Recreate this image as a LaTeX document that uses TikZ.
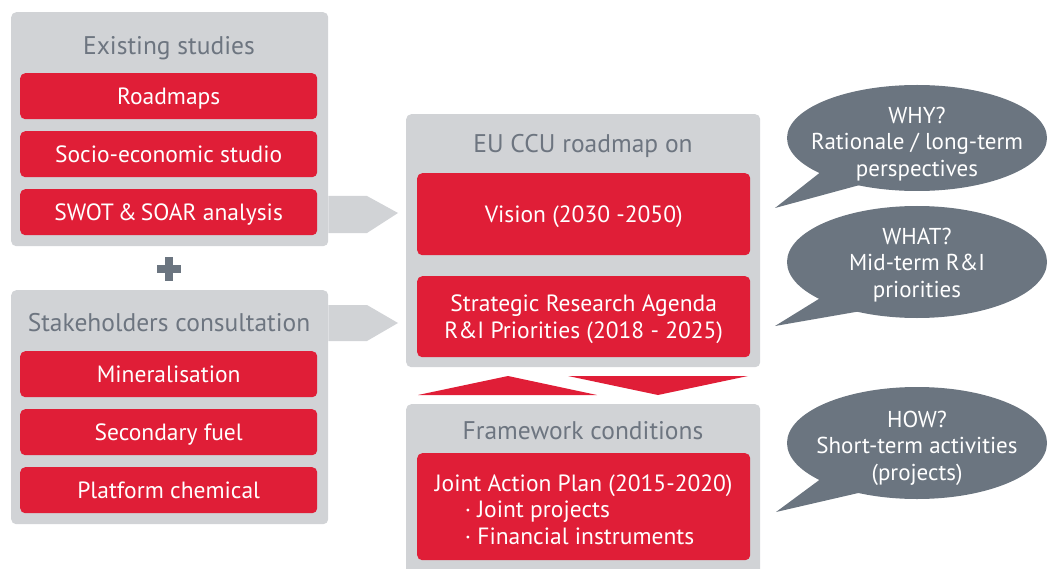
\documentclass[tikz,border=0pt]{standalone}
\usepackage{fontspec}
\setmainfont{PT Sans}
\usetikzlibrary{shapes.geometric,calc}
\definecolor{boxgray}{HTML}{D1D3D6}
\definecolor{ccured}{HTML}{E01E37}
\definecolor{bubgray}{HTML}{6B7580}
\definecolor{titlegray}{HTML}{6D7580}
\tikzset{
  panel/.style={fill=boxgray, rounded corners=5pt, draw=none},
  redbox/.style={fill=ccured, rounded corners=5pt, draw=none, text=white,
    font=\fontsize{23.5}{26.5}\selectfont, align=center, inner sep=0pt, text depth=0pt},
  redtext/.style={text=white, font=\fontsize{23.5}{26.5}\selectfont, inner sep=0pt},
  paneltitle/.style={text=titlegray, font=\fontsize{25.5}{28}\selectfont, inner sep=0pt, text depth=0pt},
  bubble/.style={ellipse, fill=bubgray, draw=none, inner sep=0pt},
  bubtext/.style={text=white, font=\fontsize{23}{26.5}\selectfont, align=center, inner sep=0pt},
  graytip/.style={fill=boxgray, draw=none},
  redtip/.style={fill=ccured, draw=none},
}
\begin{document}
\begin{tikzpicture}[x=1pt,y=-1pt]
\useasboundingbox (0,0) rectangle (1048,569);
\clip (0,0) rectangle (1048,569);
% left panels
\node[panel, minimum width=317pt, minimum height=234pt, anchor=north west] (ex) at (11,12) {};
\node[paneltitle] (extitle) at (169,45) {Existing studies};
\node[redbox, minimum width=297pt, minimum height=46pt, anchor=north west] (road) at (20,73) {Roadmaps};
\node[redbox, minimum width=297pt, minimum height=46pt, anchor=north west] (socio) at (20,131) {Socio-economic studio};
\node[redbox, minimum width=297pt, minimum height=46pt, anchor=north west] (swot) at (20,189) {SWOT\,\&\,SOAR analysis};
% plus
\node[fill=bubgray, minimum width=24pt, minimum height=8pt, inner sep=0pt] (plush) at (169,269) {};
\node[fill=bubgray, minimum width=8pt, minimum height=24pt, inner sep=0pt] (plusv) at (169,269) {};
\node[panel, minimum width=317pt, minimum height=234pt, anchor=north west] (st) at (11,290) {};
\node[paneltitle] (sttitle) at (169,322) {Stakeholders consultation};
\node[redbox, minimum width=297pt, minimum height=46pt, anchor=north west] (mineral) at (20,351) {Mineralisation};
\node[redbox, minimum width=297pt, minimum height=46pt, anchor=north west] (fuel) at (20,409) {Secondary fuel};
\node[redbox, minimum width=297pt, minimum height=46pt, anchor=north west] (chem) at (20,467) {Platform chemical};
% middle panels
\node[panel, minimum width=354pt, minimum height=253pt, anchor=north west] (eu) at (406,114) {};
\node[paneltitle] (eutitle) at (583,143) {EU CCU roadmap on};
\node[redbox, minimum width=333pt, minimum height=82pt, anchor=north west] (vision) at (417,173) {Vision (2030 -2050)};
\node[redbox, minimum width=333pt, minimum height=81pt, anchor=north west] (sra) at (417,276) {Strategic Research Agenda\\R\&I Priorities (2018 - 2025)};
\node[panel, minimum width=354pt, minimum height=180pt, anchor=north west] (fw) at (406,404) {};
\node[paneltitle] (fwtitle) at (583,430) {Framework conditions};
\node[redbox, minimum width=333pt, minimum height=107pt, anchor=north west] (jap) at (417,453) {};
\node[redtext, align=left] (japtext) at ($(jap.center)+(0,3)$)
  {Joint Action Plan (2015-2020)\\\hspace*{30pt}· Joint projects\\\hspace*{30pt}· Financial instruments};
% arrows left -> middle
\fill[graytip] (ex.east |- 0,196) -- (367,196) -- (398,213) -- (367,233) -- (ex.east |- 0,233) -- cycle;
\fill[graytip] (st.east |- 0,305) -- (367,305) -- (398,323) -- (367,341) -- (st.east |- 0,341) -- cycle;
% triangles between middle panels
\fill[redtip] (418,395) -- (508,376) -- (597,395) -- cycle;
\fill[redtip] (568,376) -- (748,376) -- (658,395) -- cycle;
% bubbles
\coordinate (whytip) at (775,208);
\coordinate (whattip) at (775,326);
\coordinate (howtip) at (776,512);
\node[bubble, minimum width=260pt, minimum height=106pt] (why) at (917,138) {};
\fill[bubgray] ($(why.center)+(-95,33)$) -- (whytip) -- ($(why.center)+(-50,45)$) -- cycle;
\node[bubtext] (whytext) at (917,144) {WHY?\\Rationale / long-term\\perspectives};
\node[bubble, minimum width=260pt, minimum height=112pt] (what) at (917,262) {};
\fill[bubgray] ($(what.center)+(-95,35)$) -- (whattip) -- ($(what.center)+(-50,48)$) -- cycle;
\node[bubtext] (whattext) at (917,265) {WHAT?\\Mid-term R\&I\\priorities};
\node[bubble, minimum width=260pt, minimum height=112pt] (how) at (917,443) {};
\fill[bubgray] ($(how.center)+(-95,35)$) -- (howtip) -- ($(how.center)+(-50,48)$) -- cycle;
\node[bubtext] (howtext) at (917,448) {HOW?\\Short-term activities\\(projects)};
\end{tikzpicture}
\end{document}
